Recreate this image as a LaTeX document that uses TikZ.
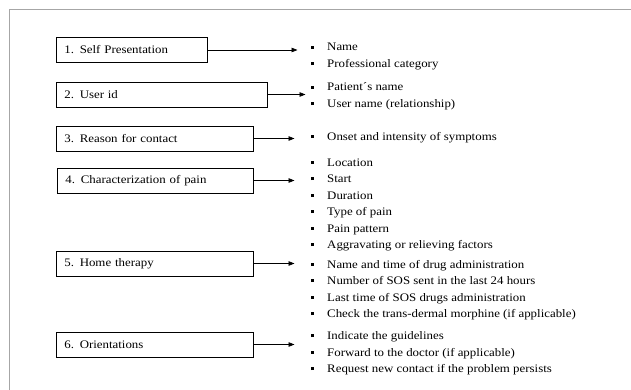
\documentclass[tikz,border=0pt]{standalone}
\usepackage{fontspec}
\setmainfont{Liberation Serif}[FakeStretch=1.12]
\usetikzlibrary{arrows.meta}

\newcommand{\bul}{\rule[2.3pt]{3pt}{3pt}\hspace{13.5pt}}

\tikzset{
  stagebox/.style={draw, line width=0.7pt, anchor=west, minimum height=25pt,
    inner xsep=8pt, inner ysep=0pt, align=left},
  itemlist/.style={anchor=base west, inner sep=0pt, align=left},
  arr/.style={-{Triangle[length=6pt,width=4.5pt]}, line width=0.7pt},
}

\begin{document}
\begin{tikzpicture}[x=1pt, y=-1pt,
    font=\fontsize{11.5}{16.5}\selectfont]
  \useasboundingbox (0,0) rectangle (631,390);
  % open frame
  \draw[gray!70, line width=1pt] (9.5,390) -- (9.5,9.5) -- (631,9.5);

  % stages
  \node[stagebox, text width=135pt] (s1) at (56,50) {1. Self Presentation};
  \node[stagebox, text width=195pt] (s2) at (56,94.5) {2. User id};
  \node[stagebox, text width=181pt] (s3) at (56,138.5) {3. Reason for contact};
  \node[stagebox, text width=180pt] (s4) at (57,180.5) {4. Characterization of pain};
  \node[stagebox, text width=181pt] (s5) at (56,263.5) {5. Home therapy};
  \node[stagebox, text width=181pt] (s6) at (56,344.5) {6. Orientations};

  % what is asked at each stage (anchored at the last line)
  \node[itemlist] (l1) at (310.5,67.5) {\bul Name\\ \bul Professional category};
  \node[itemlist] (l2) at (310.5,107.5) {\bul Patient´s name\\ \bul User name (relationship)};
  \node[itemlist] (l3) at (310.5,140.5) {\bul Onset and intensity of symptoms};
  \node[itemlist] (l4) at (310.5,248.5) {\bul Location\\ \bul Start\\ \bul Duration\\
    \bul Type of pain\\ \bul Pain pattern\\ \bul Aggravating or relieving factors};
  \node[itemlist] (l5) at (310.5,317.5) {\bul Name and time of drug administration\\
    \bul Number of SOS sent in the last 24 hours\\
    \bul Last time of SOS drugs administration\\
    \bul Check the trans-dermal morphine (if applicable)};
  \node[itemlist] (l6) at (310.5,372.5) {\bul Indicate the guidelines\\
    \bul Forward to the doctor (if applicable)\\
    \bul Request new contact if the problem persists};

  \draw[arr, shorten >=13pt] (s1.east) -- (s1.east -| l1.west);
  \draw[arr, shorten >=5pt] (s2.east) -- (s2.east -| l2.west);
  \draw[arr, shorten >=16pt] (s3.east) -- (s3.east -| l3.west);
  \draw[arr, shorten >=16pt] (s4.east) -- (s4.east -| l4.west);
  \draw[arr, shorten >=16pt] (s5.east) -- (s5.east -| l5.west);
  \draw[arr, shorten >=16pt] (s6.east) -- (s6.east -| l6.west);
\end{tikzpicture}
\end{document}
